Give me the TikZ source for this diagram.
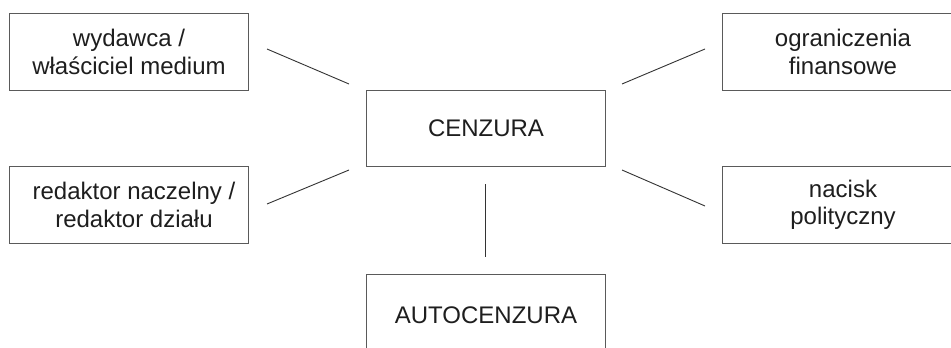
\documentclass[tikz,border=0pt]{standalone}
\usepackage{fontspec}
\setmainfont{Liberation Sans}
\definecolor{boxgray}{HTML}{5A5A5A}
\definecolor{linecol}{HTML}{333333}
\definecolor{textcol}{HTML}{1E1E1E}
\begin{document}
\begin{tikzpicture}[x=1pt,y=-1pt,
  box/.style={draw=boxgray, line width=1pt, minimum width=239pt, minimum height=77pt,
    inner sep=0pt, align=center, anchor=north west, text=textcol,
    font=\fontsize{24}{27.5}\selectfont},
  conn/.style={draw=linecol, line width=0.9pt}]
\useasboundingbox (0,0) rectangle (951,348);
\clip (0,0) rectangle (951,348);
\fill[white] (0,0) rectangle (951,348);
\node[box] (wyd) at (9,13) {wydawca /\\właściciel medium};
\node[box] (red) at (9,166) {\hspace*{10pt}redaktor naczelny /\\\hspace*{10pt}redaktor działu};
\node[box, minimum height=76pt] (cen) at (366,90) {CENZURA};
\node[box, minimum height=82pt] (auto) at (366,274) {AUTOCENZURA};
\node[box, minimum width=241pt] (ogr) at (722,13) {ograniczenia\\finansowe};
\node[box, minimum width=241pt] (nac) at (722,166) {nacisk\\polityczny};
\coordinate (l1a) at (267,49);  \coordinate (l1b) at (349,84);
\coordinate (l2a) at (267,204); \coordinate (l2b) at (349,170);
\coordinate (l3a) at (622,84);  \coordinate (l3b) at (705,49);
\coordinate (l4a) at (622,170); \coordinate (l4b) at (705,206);
\coordinate (va) at (485,184);  \coordinate (vb) at (485,257);
\draw[conn] (l1a) -- (l1b);
\draw[conn] (l2a) -- (l2b);
\draw[conn] (l3a) -- (l3b);
\draw[conn] (l4a) -- (l4b);
\draw[conn] (va) -- (vb);
\end{tikzpicture}
\end{document}
